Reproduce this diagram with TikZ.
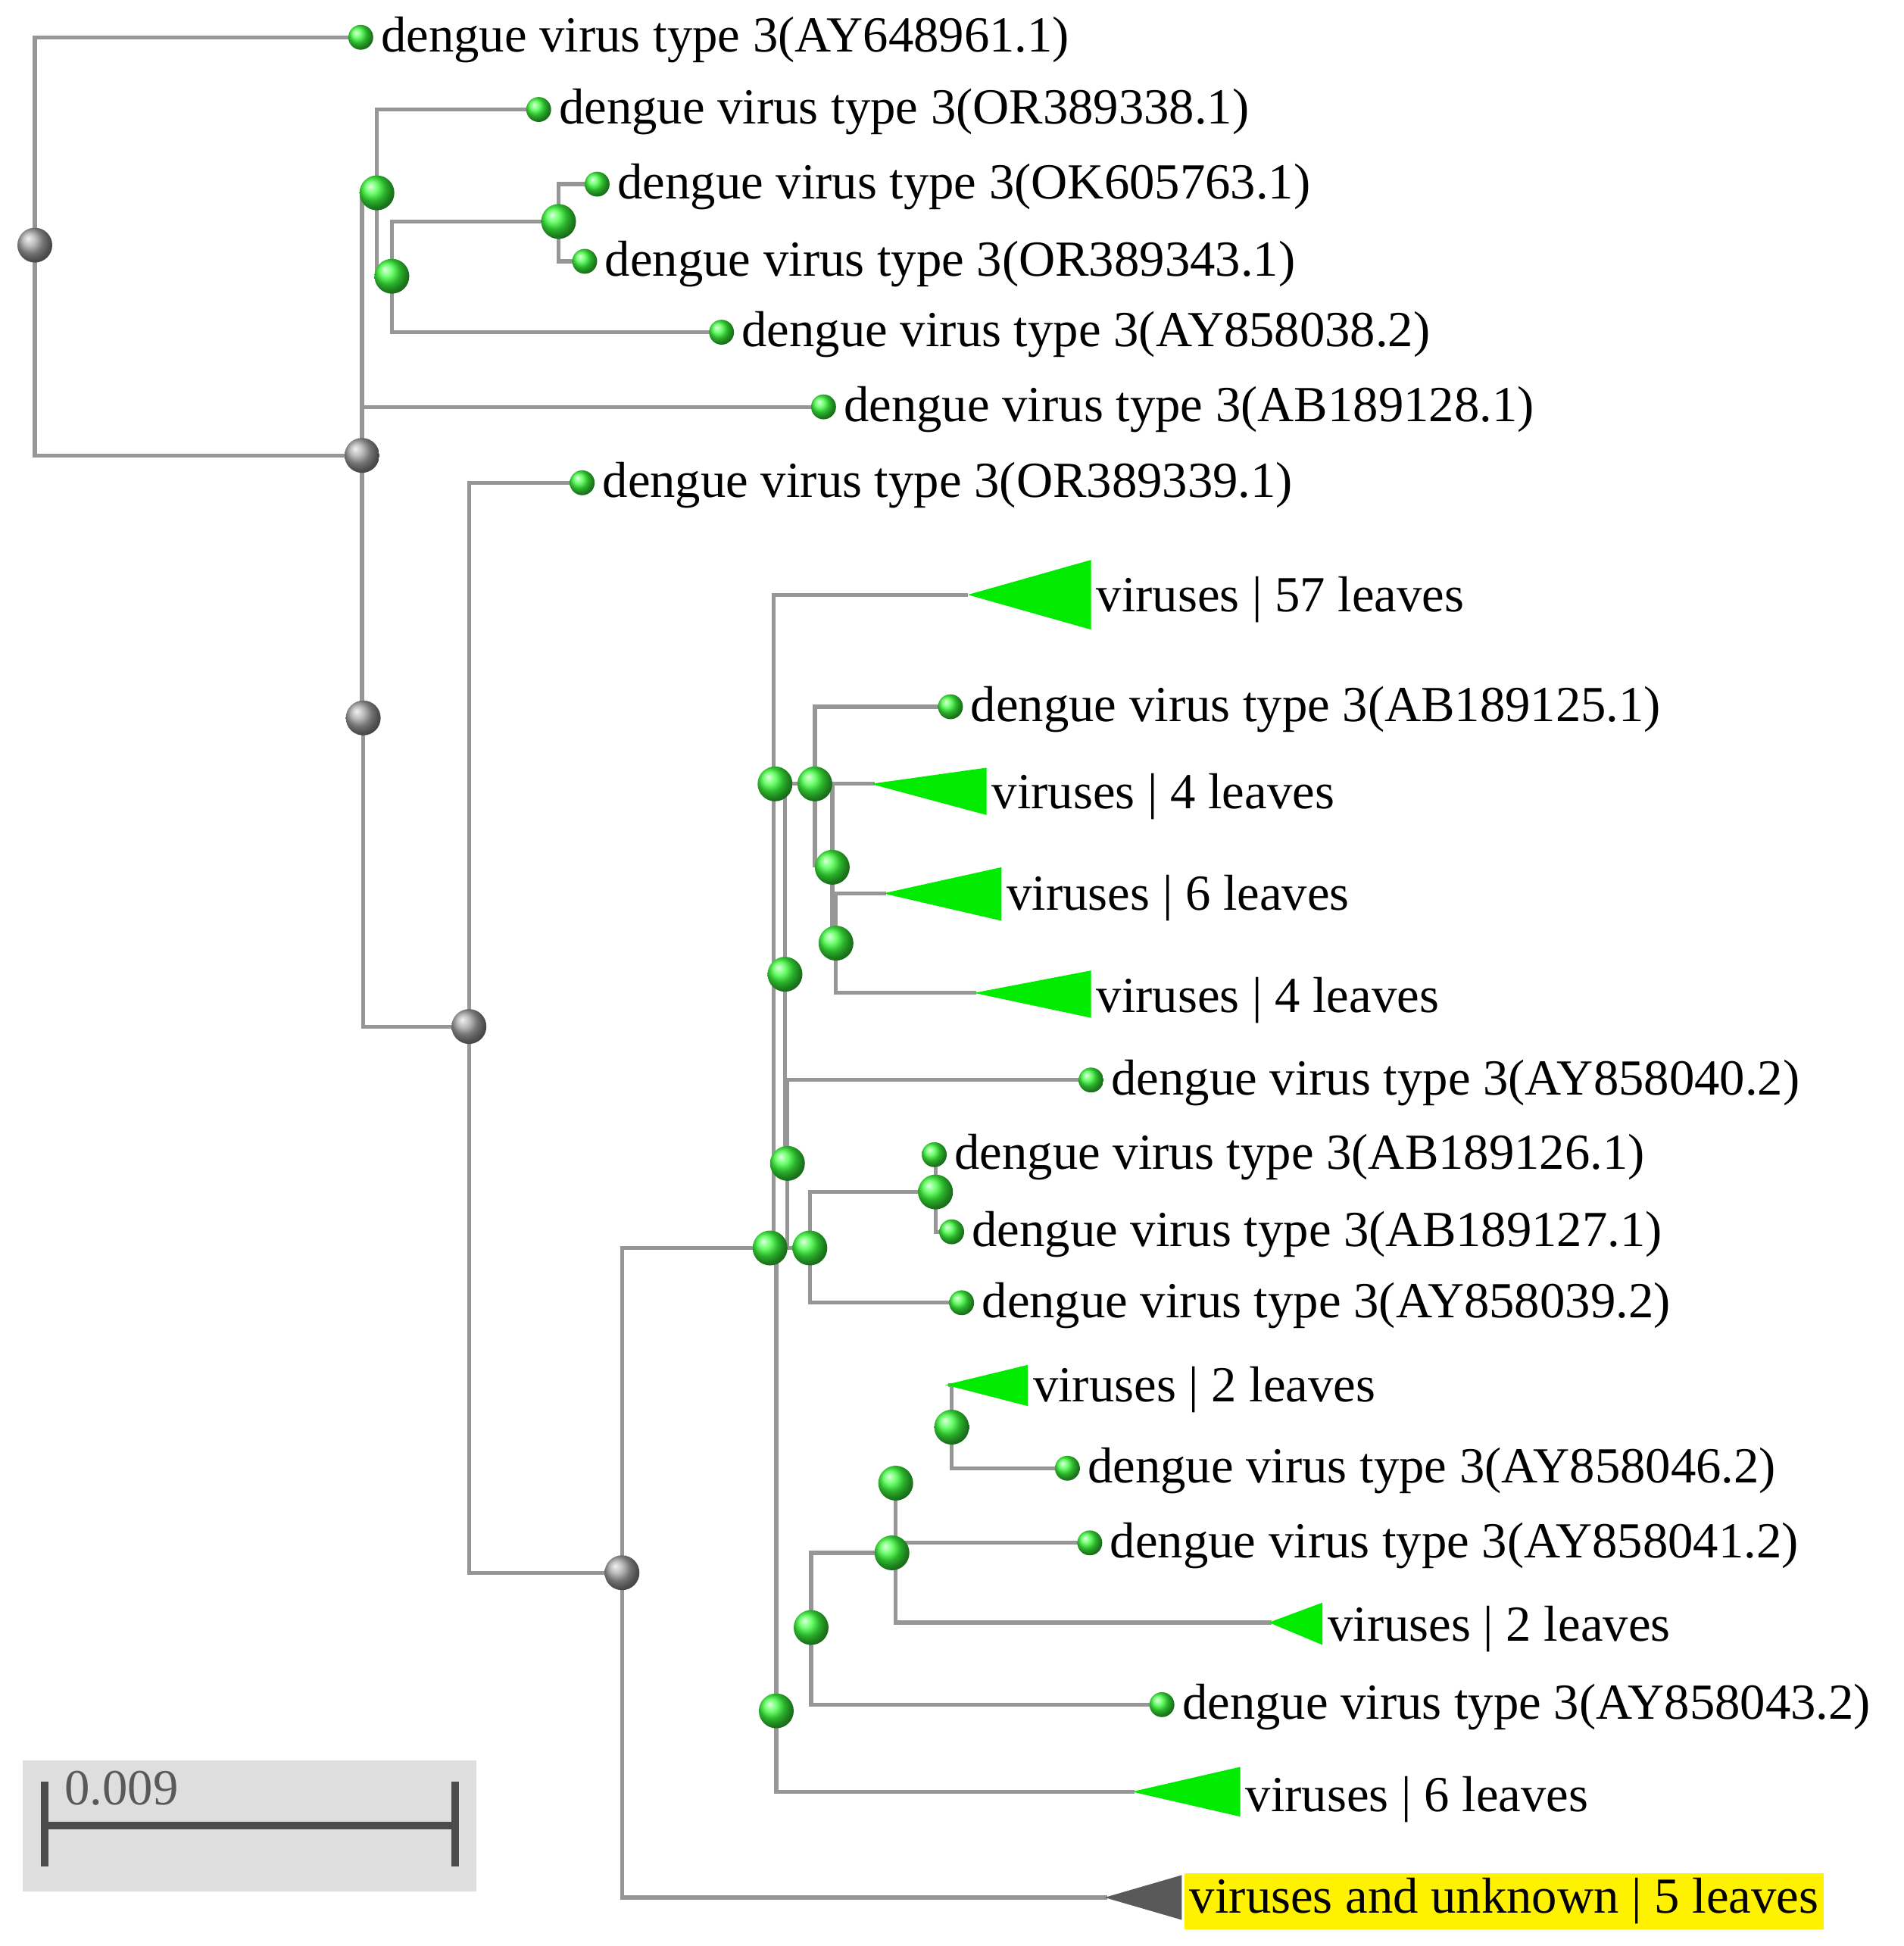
\documentclass[tikz,border=0pt]{standalone}
\usepackage{fontspec}
\setmainfont{Liberation Serif}
\usetikzlibrary{shadings}
\definecolor{edge}{RGB}{150,150,150}
\definecolor{lg}{RGB}{0,235,0}
\definecolor{bg}{RGB}{60,255,60}
\begin{document}
\begin{tikzpicture}[x=0.5pt,y=-0.5pt,
  e/.style={draw=edge,line width=1.6pt},
  leaf/.style={circle,inner sep=0pt,minimum size=10pt,ball color=bg,draw=none},
  gin/.style={circle,inner sep=0pt,minimum size=14pt,ball color=bg,draw=none},
  gray/.style={circle,inner sep=0pt,minimum size=14pt,ball color=gray!70,draw=none},
  lab/.style={anchor=west,font=\fontsize{20.3}{22}\selectfont,inner sep=2pt},
  tri/.style={fill=lg,draw=none}]
\useasboundingbox (0,0) rectangle (1530,1564);
% scale bar
\fill[black!13] (18,1415) rectangle (383,1520);
\draw[line width=3pt,black!70] (36,1432)--(36,1500) (366,1432)--(366,1500) (36,1467)--(366,1467);
\node[anchor=west,font=\fontsize{20.3}{22}\selectfont,text=black!65] (sb) at (45,1437) {0.009};
% edges
\draw[e] (290,30)-|(28,366)--(291,366);
\draw[e] (433,88)-|(303,222);
\draw[e] (291,155)--(291,577);
\draw[e] (291,327)--(662,327);
\draw[e] (449,178)-|(315,267)--(580,267);
\draw[e] (480,148)-|(449,210)--(470,210);
\draw[e] (292,577)|-(377,825);
\draw[e] (468,388)-|(377,1264)--(500,1264);
\draw[e] (619,1003)-|(500,1525)--(890,1525);
\draw[e] (778,478)-|(622,1003);
\draw[e] (623,630)--(655,630);
\draw[e] (631,630)--(631,935);
\draw[e] (877,868)-|(633,1003)--(651,1003);
\draw[e] (752,958)-|(651,1047)--(773,1047);
\draw[e] (751,928)-|(752,990)--(765,990);
\draw[e] (764,568)-|(655,697);
\draw[e] (655,630)--(703,630);
\draw[e] (669,630)--(669,758);
\draw[e] (712,718)-|(672,798)--(785,798);
\draw[e] (624,1003)--(624,1440)--(912,1440);
\draw[e] (717,1248)-|(652,1370)--(934,1370);
\draw[e] (876,1240)--(717,1240);
\draw[e] (720,1192)--(720,1304)--(1022,1304);
\draw[e] (762,1113)-|(765,1180)--(858,1180);
% triangles
\fill[tri] (778,478)--(877,450)--(877,506)--cycle;
\fill[tri] (700,630)--(793,617)--(793,655)--cycle;
\fill[tri] (710,718)--(805,697)--(805,740)--cycle;
\fill[tri] (783,798)--(877,780)--(877,818)--cycle;
\fill[tri] (760,1113)--(826,1097)--(826,1130)--cycle;
\fill[tri] (1020,1304)--(1063,1288)--(1063,1322)--cycle;
\fill[tri] (910,1440)--(997,1420)--(997,1460)--cycle;
\fill[black!65] (888,1525)--(950,1507)--(950,1543)--cycle;
% internal nodes
\node[gray] (r) at (28,197) {};
\node[gray] (g1) at (291,366) {};
\node[gray] (g2) at (292,577) {};
\node[gray] (g3) at (377,825) {};
\node[gray] (g4) at (500,1264) {};
\node[gin] (n1) at (303,155) {};
\node[gin] (n2) at (315,222) {};
\node[gin] (n3) at (449,178) {};
\node[gin] (n4) at (623,630) {};
\node[gin] (n5) at (655,630) {};
\node[gin] (n6) at (669,697) {};
\node[gin] (n7) at (672,758) {};
\node[gin] (n8) at (631,783) {};
\node[gin] (n9) at (633,935) {};
\node[gin] (n10) at (619,1003) {};
\node[gin] (n11) at (651,1003) {};
\node[gin] (n12) at (752,958) {};
\node[gin] (n13) at (765,1147) {};
\node[gin] (n14) at (720,1192) {};
\node[gin] (n15) at (717,1248) {};
\node[gin] (n16) at (652,1308) {};
\node[gin] (n17) at (624,1375) {};
% leaves
\foreach \x/\y/\t/\n in {290/30/AY648961.1/a,433/88/OR389338.1/b,480/148/OK605763.1/c,470/210/OR389343.1/d,580/267/AY858038.2/f,662/327/AB189128.1/g,468/388/OR389339.1/h,764/568/AB189125.1/i,877/868/AY858040.2/j,751/928/AB189126.1/k,765/990/AB189127.1/l,773/1047/AY858039.2/m,858/1180/AY858046.2/o,876/1240/AY858041.2/p,934/1370/AY858043.2/q}{
  \node[leaf] (L\n) at (\x,\y) {};
  \node[lab] (T\n) at (\x+12,\y+2) {dengue virus type 3(\t)};
}
\node[lab] (v1) at (877,482) {viruses | 57 leaves};
\node[lab] (v2) at (793,640) {viruses | 4 leaves};
\node[lab] (v3) at (805,722) {viruses | 6 leaves};
\node[lab] (v4) at (877,804) {viruses | 4 leaves};
\node[lab] (v5) at (826,1117) {viruses | 2 leaves};
\node[lab] (v6) at (1063,1309) {viruses | 2 leaves};
\node[lab] (v7) at (997,1446) {viruses | 6 leaves};
\node[lab,fill=yellow] (v8) at (952,1528) {viruses and unknown | 5 leaves};
\end{tikzpicture}
\end{document}
